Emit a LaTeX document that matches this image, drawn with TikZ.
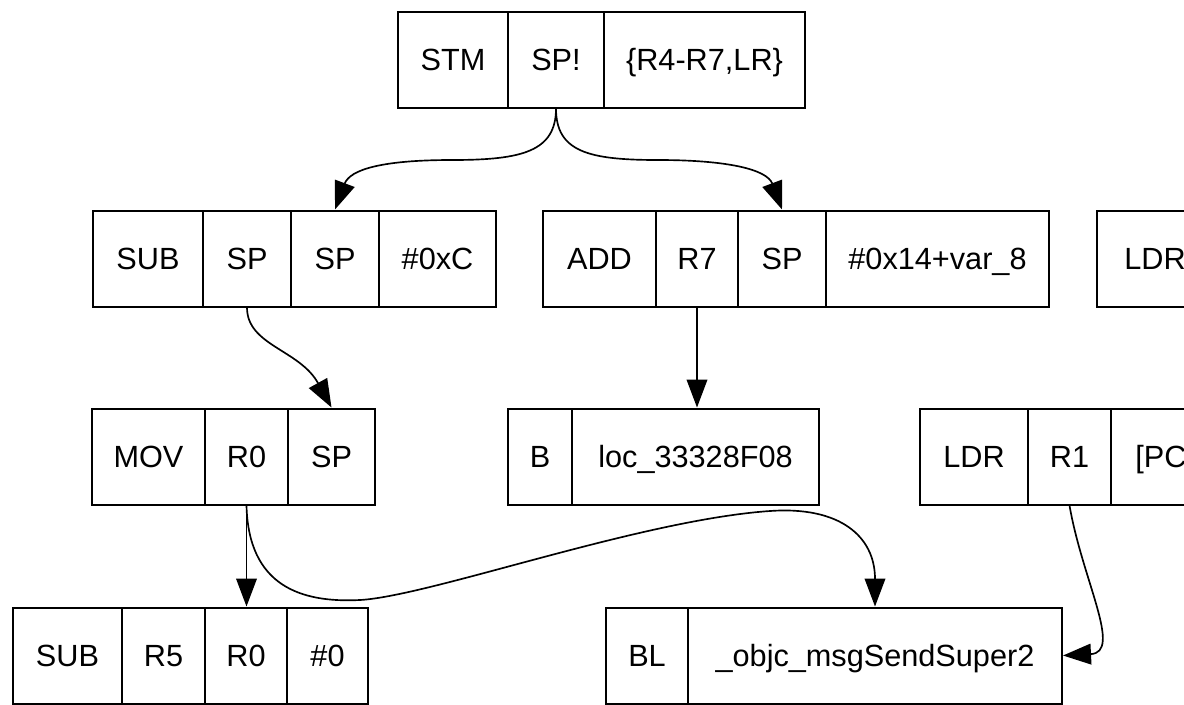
\documentclass[tikz,border=0pt]{standalone}
\usepackage{fontspec}
\setmainfont{Liberation Sans}
\usetikzlibrary{arrows.meta}
\tikzset{
  >={Triangle[length=21pt,width=15.5pt]},
  cell/.style={draw=black,line width=1.5pt,minimum height=72pt,inner sep=0pt,text height=16.5pt,text depth=0pt,font=\fontsize{23}{26}\selectfont},
  cw/.style={minimum width=#1*0.75pt},
  arr/.style={->,draw=black,line width=1.25pt},
}
\begin{document}
\begin{tikzpicture}[x=0.75pt,y=-0.75pt]
\useasboundingbox (0,0) rectangle (1184,704);
\clip (0,0) rectangle (1184,704);
% STM SP! {R4-R7,LR}
\node[cell,cw=110] (stm) at (453,59.5) {STM};
\node[cell,cw=96] (stmsp) at (556,59.5) {SP!};
\node[cell,cw=201] (stmregs) at (704.5,59.5) {\{R4-R7,LR\}};
% SUB SP SP #0xC
\node[cell,cw=110] (sub) at (148,258.5) {SUB};
\node[cell,cw=88] (subsp) at (247,258.5) {SP};
\node[cell,cw=88] (subsp2) at (335,258.5) {SP};
\node[cell,cw=117] (subimm) at (437.5,258.5) {\#0xC};
% ADD R7 SP #0x14+var_8
\node[cell,cw=113] (add) at (599.5,258.5) {ADD};
\node[cell,cw=82] (addr7) at (697,258.5) {R7};
\node[cell,cw=88] (addsp) at (782,258.5) {SP};
\node[cell,cw=223] (addimm) at (937.5,258.5) {\#0x14+var\_8};
\node[cell,cw=116] (ldr) at (1155,258.5) {LDR};
% MOV R0 SP
\node[cell,cw=113] (mov) at (148.5,456.5) {MOV};
\node[cell,cw=83] (movr0) at (246.5,456.5) {R0};
\node[cell,cw=87] (movsp) at (331.5,456.5) {SP};
% B loc_33328F08
\node[cell,cw=64] (b) at (540,456.5) {B};
\node[cell,cw=247] (bloc) at (695.5,456.5) {loc\_33328F08};
% LDR R1 [PC
\node[cell,cw=108] (ldr1) at (974,456.5) {LDR};
\node[cell,cw=83] (ldrr1) at (1069.5,456.5) {R1};
\node[cell,cw=100] (ldrpc) at (1161,456.5) {[PC};
% SUB R5 R0 #0
\node[cell,cw=109] (sub2) at (67.5,655.5) {SUB};
\node[cell,cw=83] (subr5) at (163.5,655.5) {R5};
\node[cell,cw=82] (subr0) at (246,655.5) {R0};
\node[cell,cw=81] (subimm2) at (327.5,655.5) {\#0};
% BL _objc_msgSendSuper2
\node[cell,cw=82] (bl) at (647,655.5) {BL};
\node[cell,cw=374] (blsym) at (875,655.5) {\_objc\_msgSendSuper2};
% edges
\draw[arr] (stmsp.south) .. controls +(0,43) and +(70,0) .. (452,160) .. controls +(-70,0) and +(15,-40) .. (subsp2.north);
\draw[arr] (stmsp.south) .. controls +(0,43) and +(-70,0) .. (658,160) .. controls +(70,0) and +(-15,-40) .. (addsp.north);
\draw[arr] (subsp.south) .. controls +(0,38) and +(-32,-58) .. (movsp.north);
\draw[arr] (addr7.south) -- (addr7.south |- bloc.north);
\draw[arr] (movr0.south) -- (movr0.south |- subr0.north);
\draw[arr] (movr0.south) .. controls +(2,80) and +(-60,3) .. (360,600) .. controls +(70,-4) and +(-130,9) .. (770,511) .. controls +(70,-5) and +(0,-70) .. (blsym.north);
\draw[arr] (ldrr1.south) .. controls +(13,75) and +(60,-3) .. (blsym.east);
\end{tikzpicture}
\end{document}
